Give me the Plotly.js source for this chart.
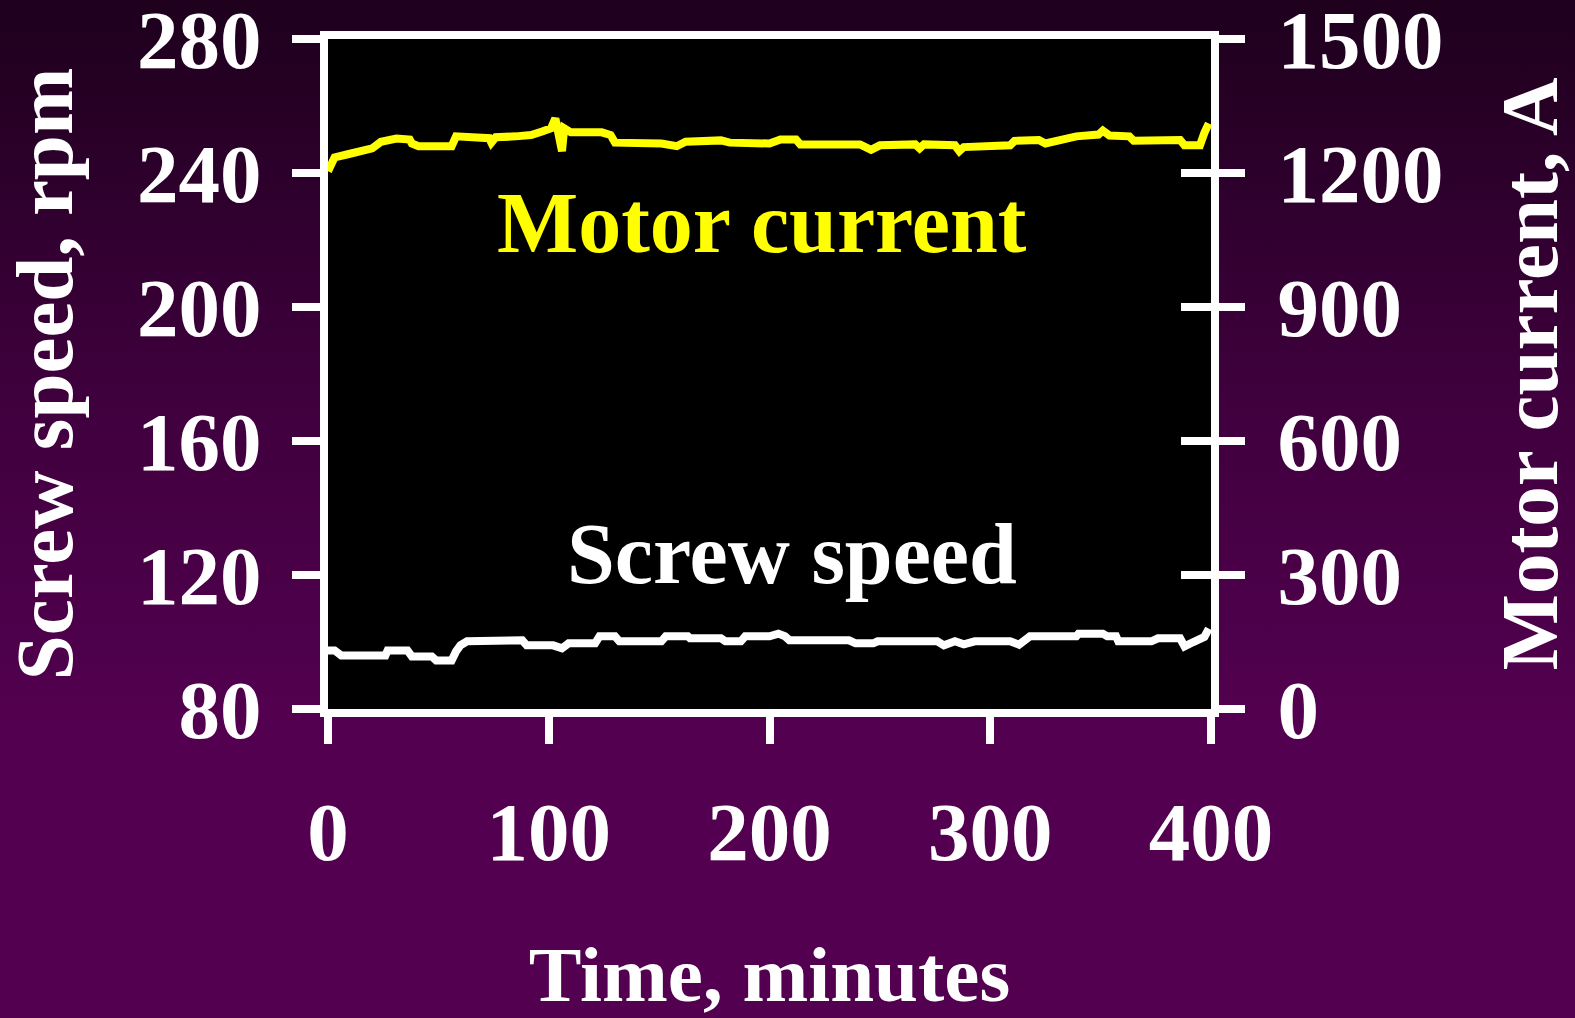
<!DOCTYPE html>
<html>
<head>
<meta charset="utf-8">
<script src="https://cdn.plot.ly/plotly-3.0.1.min.js"></script>
<style>
  html, body { margin: 0; padding: 0; width: 1575px; height: 1018px; overflow: hidden;
    background: linear-gradient(to bottom, #1e001d 0%, #40003e 40%, #52004f 70%, #52004f 100%); }
  #chart { width: 1575px; height: 1018px; }
</style>
</head>
<body>
<div id="chart"></div>
<script>
// Motor current (A), right axis
const currentTime = [0, 2, 3, 9, 15, 20, 24, 31, 37, 38, 41, 56, 58, 67, 73, 74, 76, 85, 92, 97, 101, 103, 106, 107, 110, 124, 128, 130, 146, 148, 151, 158, 162, 178, 182, 200, 205, 212, 214, 241, 246, 250, 266, 268, 270, 284, 286, 288, 309, 311, 322, 325, 331, 339, 349, 351, 354, 363, 365, 386, 388, 395, 397, 399];
const currentAmps = [1204, 1220, 1235, 1242, 1250, 1255, 1270, 1277, 1275, 1266, 1260, 1260, 1282, 1280, 1278, 1268, 1280, 1282, 1285, 1293, 1300, 1322, 1249, 1300, 1291, 1291, 1285, 1268, 1266, 1262, 1266, 1260, 1270, 1273, 1268, 1266, 1275, 1275, 1264, 1264, 1252, 1262, 1264, 1255, 1264, 1262, 1249, 1258, 1262, 1272, 1274, 1266, 1272, 1282, 1286, 1295, 1284, 1282, 1272, 1274, 1262, 1262, 1290, 1311];

// Screw speed (rpm), left axis
const speedTime = [0, 3, 6, 26, 27, 36, 38, 47, 49, 56, 58, 60, 63, 73, 76, 88, 90, 102, 106, 109, 121, 123, 130, 132, 151, 153, 163, 164, 178, 180, 187, 189, 200, 204, 207, 209, 236, 239, 247, 249, 276, 279, 284, 288, 293, 309, 313, 318, 339, 340, 351, 353, 357, 358, 373, 376, 386, 388, 392, 397, 399];
const speedRpm = [97.5, 97.5, 96, 96, 97.5, 97.5, 95.7, 95.7, 94.5, 94.5, 97.2, 99, 100.2, 100.2, 100.5, 100.5, 99, 99, 98.1, 99.6, 99.6, 101.7, 101.7, 100.2, 100.2, 101.7, 101.7, 101.1, 101.1, 100.2, 100.2, 101.7, 101.7, 102.5, 101.7, 100.5, 100.5, 99.6, 99.6, 100.2, 100.2, 99, 100.2, 99.3, 100.2, 100.2, 99.2, 101.7, 101.7, 102.5, 102.5, 101.7, 101.7, 100.2, 100.2, 101.1, 101.1, 98.7, 100, 101.5, 104];

const xTicks = [0, 100, 200, 300, 400];
const leftTicks = [80, 120, 160, 200, 240, 280];
const rightTicks = [0, 300, 600, 900, 1200, 1500];

const labels = {
  xTitle: 'Time, minutes',
  yTitle: 'Screw speed, rpm',
  y2Title: 'Motor current, A',
  currentLabel: 'Motor current',
  speedLabel: 'Screw speed'
};

const F = 'Liberation Serif, Times New Roman, serif';
const font = (size, color) => ({ family: F, size: size, color: color, weight: 'bold' });

const traces = [
  { x: speedTime, y: speedRpm, type: 'scatter', mode: 'lines', yaxis: 'y',
    line: { color: '#ffffff', width: 8 }, showlegend: false, hoverinfo: 'skip' },
  { x: currentTime, y: currentAmps, type: 'scatter', mode: 'lines', yaxis: 'y2',
    line: { color: '#ffff00', width: 8 }, showlegend: false, hoverinfo: 'skip' },
  { x: [], y: [], type: 'scatter', mode: 'lines', yaxis: 'y3', showlegend: false, hoverinfo: 'skip' }
];

const layout = {
  width: 1575, height: 1018,
  paper_bgcolor: 'rgba(0,0,0,0)',
  plot_bgcolor: '#000000',
  margin: { l: 328, r: 364, t: 39, b: 309, pad: 0 },
  showlegend: false,
  xaxis: {
    range: [0, 400], tickvals: xTicks, ticktext: xTicks.map(String),
    ticks: 'outside', ticklen: 27, tickwidth: 8, tickcolor: '#ffffff',
    showline: true, linewidth: 8, linecolor: '#ffffff', mirror: true,
    showgrid: false, zeroline: false,
    tickfont: font(83, '#ffffff'), ticklabelstandoff: 16, ticklabeloverflow: 'allow',
    title: { text: labels.xTitle, font: font(79, '#ffffff'), standoff: 76 },
    automargin: false
  },
  yaxis: {
    range: [80, 280], tickvals: leftTicks, ticktext: leftTicks.map(String),
    ticks: 'outside', ticklen: 28, tickwidth: 8, tickcolor: '#ffffff',
    showline: true, linewidth: 8, linecolor: '#ffffff', mirror: false,
    showgrid: false, zeroline: false,
    tickfont: font(83, '#ffffff'), ticklabelstandoff: 14, ticklabeloverflow: 'allow',
    title: { text: labels.yTitle, font: font(81, '#ffffff'), standoff: 60 },
    automargin: false
  },
  yaxis2: {
    range: [0, 1500], tickvals: rightTicks, ticktext: rightTicks.map(String),
    overlaying: 'y', side: 'right',
    ticks: 'outside', ticklen: 26, tickwidth: 8, tickcolor: '#ffffff',
    showline: true, linewidth: 8, linecolor: '#ffffff',
    showgrid: false, zeroline: false,
    tickfont: font(83, '#ffffff'), ticklabelstandoff: 16, ticklabeloverflow: 'allow',
    title: { text: labels.y2Title, font: font(81, '#ffffff'), standoff: 66 },
    automargin: false
  },
  yaxis3: {
    range: [0, 1500], tickvals: rightTicks,
    overlaying: 'y', side: 'right',
    ticks: 'inside', ticklen: 30, tickwidth: 8, tickcolor: '#ffffff',
    showticklabels: false, showline: false, showgrid: false, zeroline: false,
    automargin: false
  },
  annotations: [
    { text: labels.currentLabel, xref: 'paper', yref: 'paper', x: 0.492, y: 0.726,
      xanchor: 'center', yanchor: 'middle', showarrow: false, font: font(86, '#ffff00') },
    { text: labels.speedLabel, xref: 'paper', yref: 'paper', x: 0.526, y: 0.2315,
      xanchor: 'center', yanchor: 'middle', showarrow: false, font: font(86, '#ffffff') }
  ]
};

Plotly.newPlot('chart', traces, layout, { displayModeBar: false, staticPlot: true });
</script>
</body>
</html>
